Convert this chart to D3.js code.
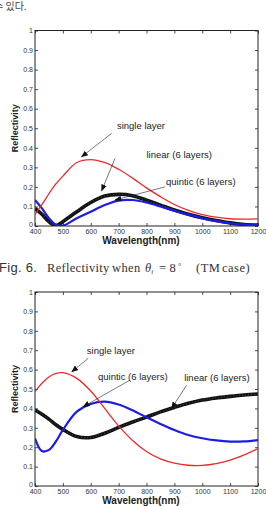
<!DOCTYPE html>
<html>
<head>
<meta charset="utf-8">
<script src="https://cdn.jsdelivr.net/npm/d3@7"></script>
<style>
  body { margin: 0; background: #fff; overflow: hidden; }
  svg { display: block; }
</style>
</head>
<body>
<script>
// DATA
const wavelengths = [400, 425, 450, 475, 500, 550, 600, 650, 700, 750, 800, 850, 900, 950, 1000, 1050, 1100, 1150, 1200];

// upper figure
const topSingle  = [0.06, 0.11, 0.165, 0.215, 0.255, 0.325, 0.34, 0.325, 0.29, 0.245, 0.195, 0.15, 0.11, 0.08, 0.058, 0.045, 0.037, 0.035, 0.036];
const topLinear  = [0.09, 0.06, 0.022, 0.002, 0.022, 0.073, 0.12, 0.153, 0.162, 0.155, 0.132, 0.107, 0.082, 0.06, 0.042, 0.028, 0.016, 0.008, 0.005];
const topQuintic = [0.133, 0.09, 0.04, 0.006, 0.002, 0.04, 0.073, 0.107, 0.13, 0.133, 0.12, 0.1, 0.078, 0.058, 0.04, 0.025, 0.014, 0.007, 0.004];

// lower figure (TM case)
const botSingle  = [0.486, 0.53, 0.562, 0.58, 0.584, 0.555, 0.49, 0.4, 0.31, 0.235, 0.178, 0.14, 0.118, 0.107, 0.106, 0.115, 0.133, 0.16, 0.193];
const botLinear  = [0.392, 0.37, 0.345, 0.316, 0.292, 0.255, 0.25, 0.272, 0.302, 0.33, 0.355, 0.382, 0.405, 0.426, 0.443, 0.454, 0.462, 0.469, 0.474];
const botQuintic = [0.246, 0.18, 0.186, 0.23, 0.289, 0.383, 0.423, 0.435, 0.42, 0.39, 0.354, 0.32, 0.289, 0.263, 0.246, 0.235, 0.229, 0.23, 0.237];

const xTicks = [400, 500, 600, 700, 800, 900, 1000, 1100, 1200];
const yTicks = [0, 0.1, 0.2, 0.3, 0.4, 0.5, 0.6, 0.7, 0.8, 0.9, 1];

const seriesNames = ["single layer", "linear (6 layers)", "quintic (6 layers)"];
const seriesColors = ["#ee2828", "#111111", "#1c1ce4"];

// annotation positions in data units: [label w, label v, line-start w, v, tip w, v]
const topNotes = [
  [694, 0.495, 675, 0.474, 567, 0.354],
  [800, 0.348, 687, 0.346, 639, 0.18],
  [870, 0.208, 866, 0.2, 687, 0.133]
];
const botNotes = [
  [586, 0.68, 591, 0.658, 532, 0.589],
  [935, 0.54, 944, 0.52, 890, 0.40],
  [626, 0.546, 741, 0.546, 573, 0.409]
];

// LAYOUT
const W = 266, H = 506;
const left = 35, right = 258;

const svg = d3.select("body").append("svg")
  .attr("width", W)
  .attr("height", H);

const defs = svg.append("defs");
defs.append("marker")
  .attr("id", "arrow")
  .attr("viewBox", "0 0 10 10")
  .attr("refX", 9).attr("refY", 5)
  .attr("markerWidth", 7).attr("markerHeight", 7)
  .attr("markerUnits", "userSpaceOnUse")
  .attr("orient", "auto")
  .append("path")
  .attr("d", "M0,1 L10,5 L0,9 Z")
  .attr("fill", "#111");

// text above the figures (cut at the left, as in the scan)
svg.append("text")
  .attr("x", -6).attr("y", 10)
  .attr("font-family", "'Noto Sans CJK KR', sans-serif")
  .attr("font-size", "10px")
  .attr("fill", "#444")
  .text("수 있다.");

const xScale = d3.scaleLinear().domain([400, 1200]).range([left, right]);

function drawPanel(top, bottom, data, notes, idx) {
  const yScale = d3.scaleLinear().domain([0, 1]).range([bottom, top]);
  const g = svg.append("g");

  defs.append("clipPath").attr("id", "clip" + idx)
    .append("rect")
    .attr("x", left).attr("y", top)
    .attr("width", right - left).attr("height", bottom - top);

  // box
  g.append("rect")
    .attr("x", left).attr("y", top)
    .attr("width", right - left).attr("height", bottom - top)
    .attr("fill", "#fff")
    .attr("stroke", "#222")
    .attr("stroke-width", 1);

  const fontAxis = "'Liberation Sans', Arial, sans-serif";

  // axes, ticks pointing inward like matlab
  const xAxis = g.append("g")
    .attr("transform", `translate(0,${bottom})`)
    .call(d3.axisBottom(xScale).tickValues(xTicks).tickSize(-3).tickPadding(3).tickFormat(d => d));
  const xAxisTop = g.append("g")
    .attr("transform", `translate(0,${top})`)
    .call(d3.axisTop(xScale).tickValues(xTicks).tickSize(-3).tickFormat(""));
  const yAxis = g.append("g")
    .attr("transform", `translate(${left},0)`)
    .call(d3.axisLeft(yScale).tickValues(yTicks).tickSize(-3).tickPadding(2).tickFormat(d => d));
  const yAxisRight = g.append("g")
    .attr("transform", `translate(${right},0)`)
    .call(d3.axisRight(yScale).tickValues(yTicks).tickSize(-3).tickFormat(""));

  [xAxis, xAxisTop, yAxis, yAxisRight].forEach(a => {
    a.select(".domain").remove();
    a.selectAll("line").attr("stroke", "#222").attr("stroke-width", 0.8);
    a.selectAll("text")
      .attr("font-family", fontAxis)
      .attr("font-size", "7px")
      .attr("fill", "#333");
  });
  // the "0" of the y axis sits a touch higher so it clears "400"
  yAxis.selectAll(".tick text").filter(d => d === 0).attr("dy", "0.1em");

  // axis titles
  g.append("text")
    .attr("x", 141).attr("y", bottom + 18)
    .attr("text-anchor", "middle")
    .attr("font-family", fontAxis)
    .attr("font-weight", "bold")
    .attr("font-size", "10px")
    .attr("fill", "#222")
    .text("Wavelength(nm)");

  g.append("text")
    .attr("transform", "rotate(-90)")
    .attr("x", -(top + bottom) / 2)
    .attr("y", 18)
    .attr("text-anchor", "middle")
    .attr("font-family", fontAxis)
    .attr("font-weight", "bold")
    .attr("font-size", "9px")
    .attr("fill", "#222")
    .text("Reflectivity");

  // curves
  const line = d3.line()
    .x((d, i) => xScale(wavelengths[i]))
    .y(d => yScale(d))
    .curve(d3.curveCatmullRom.alpha(0.5));

  const plot = g.append("g").attr("clip-path", `url(#clip${idx})`);

  // black (linear) drawn first, thick with white speckle like matlab markers
  plot.append("path")
    .attr("d", line(data[1]))
    .attr("fill", "none")
    .attr("stroke", seriesColors[1])
    .attr("stroke-width", 3.6);
  plot.append("path")
    .attr("d", line(data[1]))
    .attr("fill", "none")
    .attr("stroke", "#fff")
    .attr("stroke-opacity", 0.55)
    .attr("stroke-width", 0.7)
    .attr("stroke-dasharray", "0.6 2.4");

  plot.append("path")
    .attr("d", line(data[2]))
    .attr("fill", "none")
    .attr("stroke", seriesColors[2])
    .attr("stroke-width", 2.2);

  plot.append("path")
    .attr("d", line(data[0]))
    .attr("fill", "none")
    .attr("stroke", seriesColors[0])
    .attr("stroke-width", 1.3);

  // annotations
  notes.forEach((n, i) => {
    g.append("line")
      .attr("x1", xScale(n[2])).attr("y1", yScale(n[3]))
      .attr("x2", xScale(n[4])).attr("y2", yScale(n[5]))
      .attr("stroke", "#222")
      .attr("stroke-width", 0.6)
      .attr("marker-end", "url(#arrow)");
    g.append("text")
      .attr("x", xScale(n[0])).attr("y", yScale(n[1]))
      .attr("font-family", fontAxis)
      .attr("font-size", "9.5px")
      .attr("fill", "#222")
      .text(seriesNames[i]);
  });
}

drawPanel(30.5, 226, [topSingle, topLinear, topQuintic], topNotes, 0);
drawPanel(292, 486, [botSingle, botLinear, botQuintic], botNotes, 1);

// caption
const serif = "'Liberation Serif', serif";
const cap = svg.append("text")
  .attr("y", 272)
  .attr("fill", "#333")
  .attr("font-size", "12.5px");
cap.append("tspan").attr("x", -1).attr("font-family", "'Liberation Sans', Arial, sans-serif").attr("font-size", "13px").attr("letter-spacing", "0.3").text("Fig. 6.");
cap.append("tspan").attr("x", 47).attr("font-family", serif).attr("letter-spacing", "0.3").text("Reflectivity");
cap.append("tspan").attr("x", 112).attr("font-family", serif).attr("letter-spacing", "0.4").text("when");
cap.append("tspan").attr("x", 145).attr("font-family", serif).attr("font-style", "italic").text("θ");
cap.append("tspan").attr("font-family", serif).attr("font-style", "italic").attr("font-size", "7px").attr("dy", 2).text("i");
cap.append("tspan").attr("x", 159).attr("dy", -2).attr("font-family", serif).text("=");
cap.append("tspan").attr("x", 169.5).attr("font-family", serif).text("8");
cap.append("tspan").attr("x", 178).attr("font-family", serif).attr("font-size", "8px").attr("dy", -3).text("°");
cap.append("tspan").attr("x", 196).attr("dy", 3).attr("font-family", serif).attr("letter-spacing", "0.5").text("(TM");
cap.append("tspan").attr("x", 222).attr("font-family", serif).attr("letter-spacing", "0.5").text("case)");
</script>
</body>
</html>
